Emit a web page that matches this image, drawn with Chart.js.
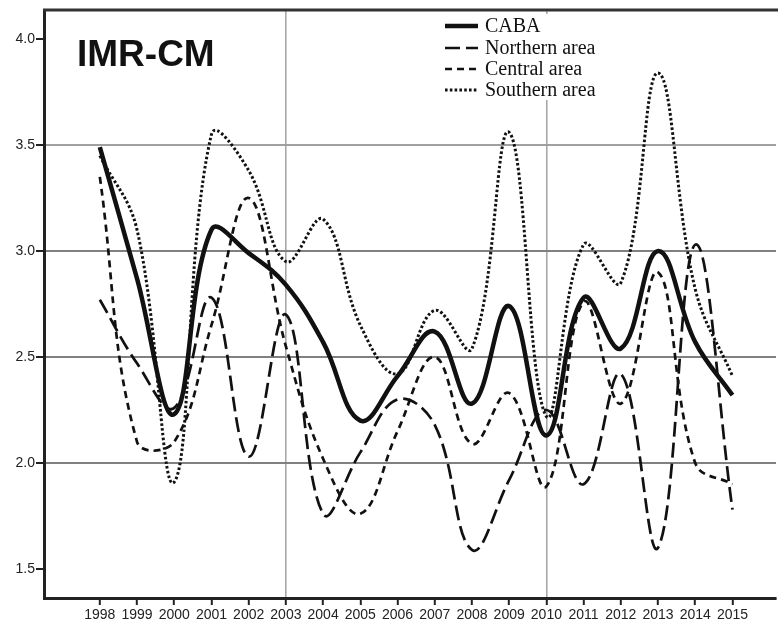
<!DOCTYPE html>
<html>
<head>
<meta charset="utf-8">
<script src="https://cdn.jsdelivr.net/npm/chart.js@4.4.0/dist/chart.umd.min.js"></script>
<style>
  html, body { margin: 0; padding: 0; background: #fff; }
</style>
</head>
<body>
<canvas id="chart" width="778" height="628"></canvas>
<script>
// values
const years = [1998, 1999, 2000, 2001, 2002, 2003, 2004, 2005, 2006, 2007, 2008, 2009, 2010, 2011, 2012, 2013, 2014, 2015];
const caba     = [3.49, 2.87, 2.23, 3.10, 2.99, 2.84, 2.57, 2.20, 2.41, 2.62, 2.28, 2.74, 2.13, 2.78, 2.54, 3.00, 2.57, 2.32];
const northern = [2.77, 2.47, 2.26, 2.78, 2.03, 2.70, 1.76, 2.05, 2.30, 2.18, 1.59, 1.92, 2.25, 1.90, 2.42, 1.60, 3.03, 1.78];
const central  = [3.35, 2.10, 2.10, 2.65, 3.25, 2.55, 2.02, 1.76, 2.15, 2.50, 2.09, 2.33, 1.89, 2.76, 2.28, 2.90, 2.00, 1.90];
const southern = [3.45, 3.10, 1.91, 3.55, 3.38, 2.95, 3.15, 2.65, 2.42, 2.72, 2.54, 3.56, 2.22, 3.03, 2.85, 3.84, 2.82, 2.41];
const yTicks = [1.5, 2.0, 2.5, 3.0, 3.5, 4.0];
const markedYears = [2003, 2010];
const seriesNames = ["CABA", "Northern area", "Central area", "Southern area"];
const titleText = "IMR-CM";

const tickFont = "'Liberation Sans', Arial, sans-serif";

function pts(vals) {
  return vals.map((v, i) => ({ x: years[i], y: v }));
}

const styles = [
  { width: 4.5, dash: [] },
  { width: 2.7, dash: [15, 6] },
  { width: 2.7, dash: [7, 5] },
  { width: 3, dash: [2.6, 2.2] }
];
const allSeries = [caba, northern, central, southern];

const datasets = allSeries.map((vals, i) => ({
  label: seriesNames[i],
  data: pts(vals),
  borderColor: '#111',
  borderWidth: styles[i].width,
  borderDash: styles[i].dash,
  pointRadius: 0,
  tension: 0.4,
  fill: false
}));

// title, legend and top frame line drawn inside the plot
const decor = {
  id: 'decor',
  afterDraw(chart) {
    const ctx = chart.ctx;
    const a = chart.chartArea;
    ctx.save();
    // top frame
    ctx.strokeStyle = '#333';
    ctx.lineWidth = 3;
    ctx.beginPath();
    ctx.moveTo(a.left - 1, a.top);
    ctx.lineTo(778, a.top);
    ctx.stroke();

    // title
    ctx.fillStyle = '#111';
    ctx.font = "bold 37px 'Liberation Sans', Arial, sans-serif";
    ctx.textBaseline = 'alphabetic';
    ctx.fillText(titleText, 77, 66);

    // legend box
    ctx.fillStyle = '#fff';
    ctx.fillRect(440, 14, 180, 86);
    ctx.font = "20px 'Liberation Serif', 'Times New Roman', serif";
    const baselines = [32, 54, 75, 96];
    seriesNames.forEach((name, i) => {
      const yb = baselines[i];
      ctx.strokeStyle = '#111';
      ctx.lineWidth = styles[i].width;
      ctx.setLineDash(styles[i].dash);
      ctx.beginPath();
      ctx.moveTo(445, yb - 6);
      ctx.lineTo(478, yb - 6);
      ctx.stroke();
      ctx.setLineDash([]);
      ctx.fillStyle = '#111';
      ctx.fillText(name, 485, yb);
    });
    ctx.restore();
  }
};

new Chart(document.getElementById('chart'), {
  type: 'line',
  data: { datasets: datasets },
  options: {
    responsive: false,
    animation: false,
    layout: { padding: { top: 10, right: 2, left: 0, bottom: 0 } },
    plugins: {
      legend: { display: false },
      tooltip: { enabled: false }
    },
    scales: {
      x: {
        type: 'linear',
        min: 1996.5,
        max: 2016.17,
        afterBuildTicks: s => { s.ticks = years.map(v => ({ value: v })); },
        afterFit: s => { s.height = 30; },
        border: { color: '#222', width: 3 },
        grid: {
          color: c => markedYears.includes(c.tick && c.tick.value) ? '#a8a8a8' : 'rgba(0,0,0,0)',
          lineWidth: 1.6,
          tickColor: '#222',
          tickLength: 7,
          tickWidth: 2
        },
        ticks: {
          autoSkip: false,
          maxRotation: 0,
          padding: 2,
          color: '#222',
          font: { family: tickFont, size: 14 },
          callback: v => String(v)
        }
      },
      y: {
        min: 1.363,
        max: 4.137,
        afterBuildTicks: s => { s.ticks = yTicks.map(v => ({ value: v })); },
        afterFit: s => { s.width = 44; },
        border: { color: '#222', width: 3 },
        grid: {
          color: c => {
            const v = c.tick && c.tick.value;
            if (v === 3.5) return '#a0a0a0';
            if (v > 1.6 && v < 3.9) return '#808080';
            return 'rgba(0,0,0,0)';
          },
          lineWidth: 2,
          tickColor: '#222',
          tickLength: 8,
          tickWidth: 2
        },
        ticks: {
          padding: 1,
          color: '#222',
          font: { family: tickFont, size: 14 },
          callback: v => Number(v).toFixed(1)
        }
      }
    }
  },
  plugins: [decor]
});
</script>
</body>
</html>
